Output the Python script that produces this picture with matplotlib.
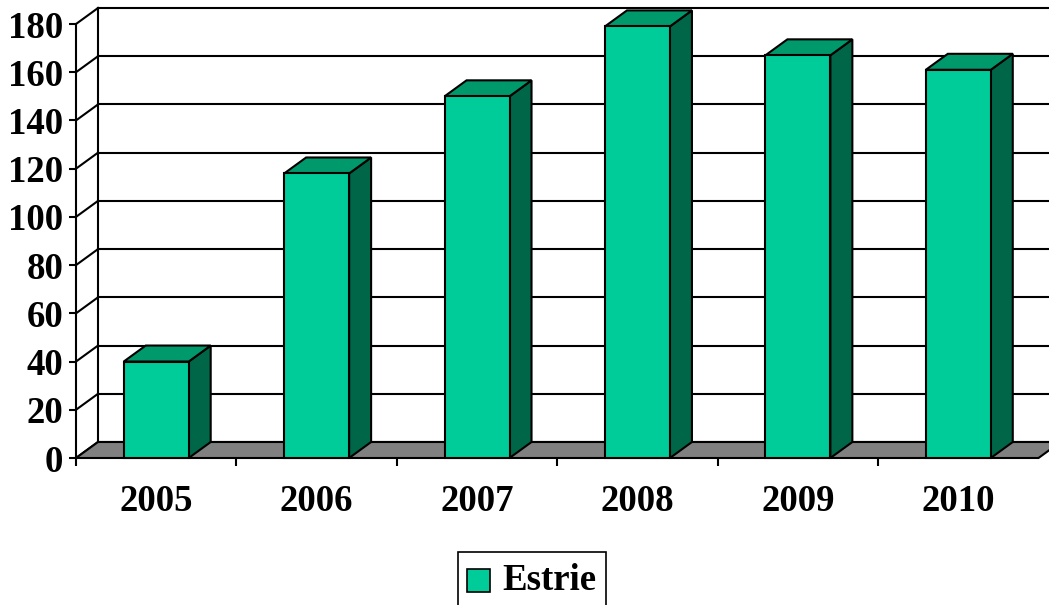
import matplotlib
matplotlib.use("Agg")
import matplotlib.pyplot as plt
from matplotlib.patches import Polygon, Rectangle

# Данные
years = ['2005', '2006', '2007', '2008', '2009', '2010']
estrie = [40, 118, 150, 179, 167, 161]
y_ticks = [0, 20, 40, 60, 80, 100, 120, 140, 160, 180]
series_name = 'Estrie'

# Цвета
c_front = '#00CC99'
c_top = '#00996B'
c_side = '#006648'
c_floor = '#808080'

plt.rcParams['font.family'] = ['Liberation Serif', 'DejaVu Serif']
plt.rcParams['font.weight'] = 'bold'

W, H = 1049, 605
fig = plt.figure(figsize=(W / 100, H / 100), dpi=100)
x0, x1, yb, yt = 76, 1038.5, 458, 24
ax = fig.add_axes([x0 / W, (H - yb) / H, (x1 - x0) / W, (yb - yt) / H])
n = len(years)
ax.set_xlim(0, n)
ax.set_ylim(0, 180)

# смещение глубины (в единицах данных)
ddx = 22 / ((x1 - x0) / n)
ddy = 16 / ((yb - yt) / 180)
lw = 1.5
fs = 26.5

for s in ax.spines.values():
    s.set_visible(False)

# задняя стенка и линии сетки
ax.add_patch(Polygon([(ddx, ddy), (n + ddx, ddy), (n + ddx, 180 + ddy), (ddx, 180 + ddy)],
                     closed=True, facecolor='white', edgecolor='none', clip_on=False, zorder=0))
for v in y_ticks:
    ax.plot([ddx, n + ddx], [v + ddy, v + ddy], color='black', lw=lw, clip_on=False, zorder=1)
    ax.plot([0, ddx], [v, v + ddy], color='black', lw=lw, clip_on=False, zorder=1)
ax.plot([ddx, ddx], [ddy, 180 + ddy], color='black', lw=lw, clip_on=False, zorder=1)
ax.plot([0, 0], [0, 180], color='black', lw=lw, clip_on=False, zorder=5)

# пол
ax.add_patch(Polygon([(0, 0), (n, 0), (n + ddx, ddy), (ddx, ddy)], closed=True,
                     facecolor=c_floor, edgecolor='black', lw=lw, clip_on=False, zorder=2))

# столбцы
bw = 0.405
for i, v in enumerate(estrie):
    l = i + 0.5 - bw / 2
    r = l + bw
    ax.add_patch(Polygon([(r, 0), (r + ddx, ddy), (r + ddx, v + ddy), (r, v)], closed=True,
                         facecolor=c_side, edgecolor='black', lw=lw, clip_on=False, zorder=3))
    ax.add_patch(Polygon([(l, v), (r, v), (r + ddx, v + ddy), (l + ddx, v + ddy)], closed=True,
                         facecolor=c_top, edgecolor='black', lw=lw, clip_on=False, zorder=3))
    ax.add_patch(Rectangle((l, 0), bw, v, facecolor=c_front, edgecolor='black', lw=lw,
                           clip_on=False, zorder=4))

# оси
ax.set_yticks(y_ticks)
ax.set_yticklabels([str(v) for v in y_ticks], fontsize=fs, fontweight='bold')
ax.tick_params(axis='y', length=5, width=lw, pad=4)
ax.set_xticks([i + 0.5 for i in range(n)])
ax.set_xticklabels(years, fontsize=fs, fontweight='bold')
ax.set_xticks(range(n), minor=True)
ax.tick_params(axis='x', which='major', length=0, pad=19)
ax.tick_params(axis='x', which='minor', length=6, width=lw, direction='out')

# легенда
fig.add_artist(Rectangle((458 / W, (H - 615) / H), 148 / W, 63 / H, transform=fig.transFigure,
                         facecolor='white', edgecolor='black', lw=1.2))
fig.add_artist(Rectangle((467 / W, (H - 592) / H), 23 / W, 23 / H, transform=fig.transFigure,
                         facecolor=c_front, edgecolor='black', lw=1.2))
fig.text(502 / W, (H - 581) / H, series_name, fontsize=fs, fontweight='bold', va='center', ha='left')

fig.savefig('out.png', dpi=100)
